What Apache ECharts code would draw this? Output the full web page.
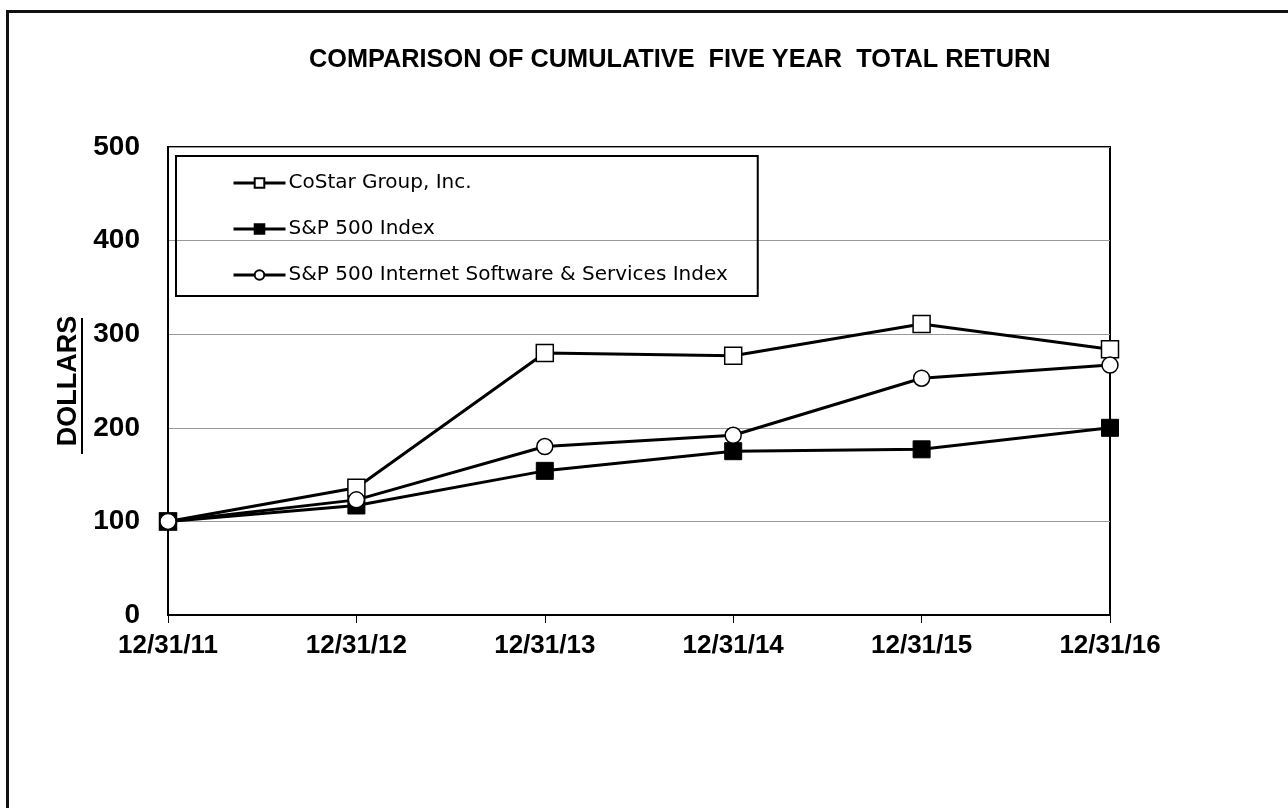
<!DOCTYPE html>
<html>
<head>
<meta charset="utf-8">
<script src="https://cdn.jsdelivr.net/npm/echarts@6/dist/echarts.min.js"></script>
<style>
  html, body { margin: 0; padding: 0; background: #fff; }
  #frame {
    position: absolute; left: 6px; top: 10px; width: 1400px; height: 900px;
    border-left: 3px solid #111; border-top: 3px solid #111;
  }
  #main { position: absolute; left: 0; top: 0; width: 1288px; height: 808px; }
</style>
</head>
<body>
<div id="frame"></div>
<div id="main"></div>
<script>
  // 年份（横轴）
  const years = ['12/31/11', '12/31/12', '12/31/13', '12/31/14', '12/31/15', '12/31/16'];
  // 三条曲线的数值
  const costar = [100, 136, 280, 277, 311, 284];
  const sp500 = [100, 117, 154, 175, 177, 200];
  const internetSw = [100, 123, 180, 192, 253, 267];
  const seriesNames = ['CoStar Group, Inc.', 'S&P 500 Index', 'S&P 500 Internet Software & Services Index'];

  const sans = '"Liberation Sans", Arial, sans-serif';

  const chart = echarts.init(document.getElementById('main'));

  const lineStyle = { color: '#000', width: 3 };

  const option = {
    backgroundColor: 'transparent',
    animation: false,
    title: {
      text: 'COMPARISON OF CUMULATIVE  FIVE YEAR  TOTAL RETURN',
      left: 309,
      top: 48,
      padding: 0,
      textStyle: { fontFamily: sans, fontWeight: 'bold', fontSize: 25.3, color: '#000' }
    },
    legend: {
      orient: 'vertical',
      left: 176,
      top: 156,
      padding: [17, 30, 11, 56],
      borderColor: '#000',
      borderWidth: 2,
      itemGap: 26,
      itemWidth: 52,
      itemHeight: 12,
      data: seriesNames,
      lineStyle: { width: 3 },
      textStyle: { fontFamily: '"DejaVu Sans", sans-serif', fontSize: 20, color: '#000', padding: [0, 0, 0, -2] }
    },
    grid: {
      left: 168,
      right: 178,
      top: 147,
      bottom: 193,
      show: true,
      borderColor: '#000',
      borderWidth: 2,
      containLabel: false
    },
    xAxis: {
      type: 'category',
      data: years,
      boundaryGap: false,
      axisLine: { lineStyle: { color: '#000', width: 2 } },
      axisTick: { show: true, length: 8, lineStyle: { color: '#000', width: 1 } },
      axisLabel: { margin: 18, fontFamily: sans, fontWeight: 'bold', fontSize: 26, color: '#000' },
      splitLine: { show: false }
    },
    yAxis: {
      type: 'value',
      min: 0,
      max: 500,
      interval: 100,
      name: 'DOLLARS',
      nameLocation: 'middle',
      nameRotate: 90,
      nameGap: 83,
      nameTextStyle: { fontFamily: sans, fontWeight: 'bold', fontSize: 27, color: '#000' },
      axisLine: { show: true, lineStyle: { color: '#000', width: 2 } },
      axisTick: { show: false },
      axisLabel: { margin: 28, fontFamily: sans, fontWeight: 'bold', fontSize: 28, color: '#000' },
      splitLine: { show: true, lineStyle: { color: '#999', width: 1 } }
    },
    graphic: [
      // DOLLARS 下划线
      { type: 'rect', left: 81, top: 318, shape: { width: 2, height: 136 }, style: { fill: '#000' } }
    ],
    series: [
      {
        name: seriesNames[0], type: 'line', data: costar,
        symbol: 'rect', symbolSize: 17,
        lineStyle: lineStyle,
        itemStyle: { color: '#fff', borderColor: '#000', borderWidth: 1.5 }
      },
      {
        name: seriesNames[1], type: 'line', data: sp500,
        symbol: 'rect', symbolSize: 17,
        lineStyle: lineStyle,
        itemStyle: { color: '#000', borderColor: '#000', borderWidth: 1 }
      },
      {
        name: seriesNames[2], type: 'line', data: internetSw,
        symbol: 'circle', symbolSize: 16,
        lineStyle: lineStyle,
        itemStyle: { color: '#fff', borderColor: '#000', borderWidth: 1.5 }
      }
    ]
  };

  chart.setOption(option);
</script>
</body>
</html>
